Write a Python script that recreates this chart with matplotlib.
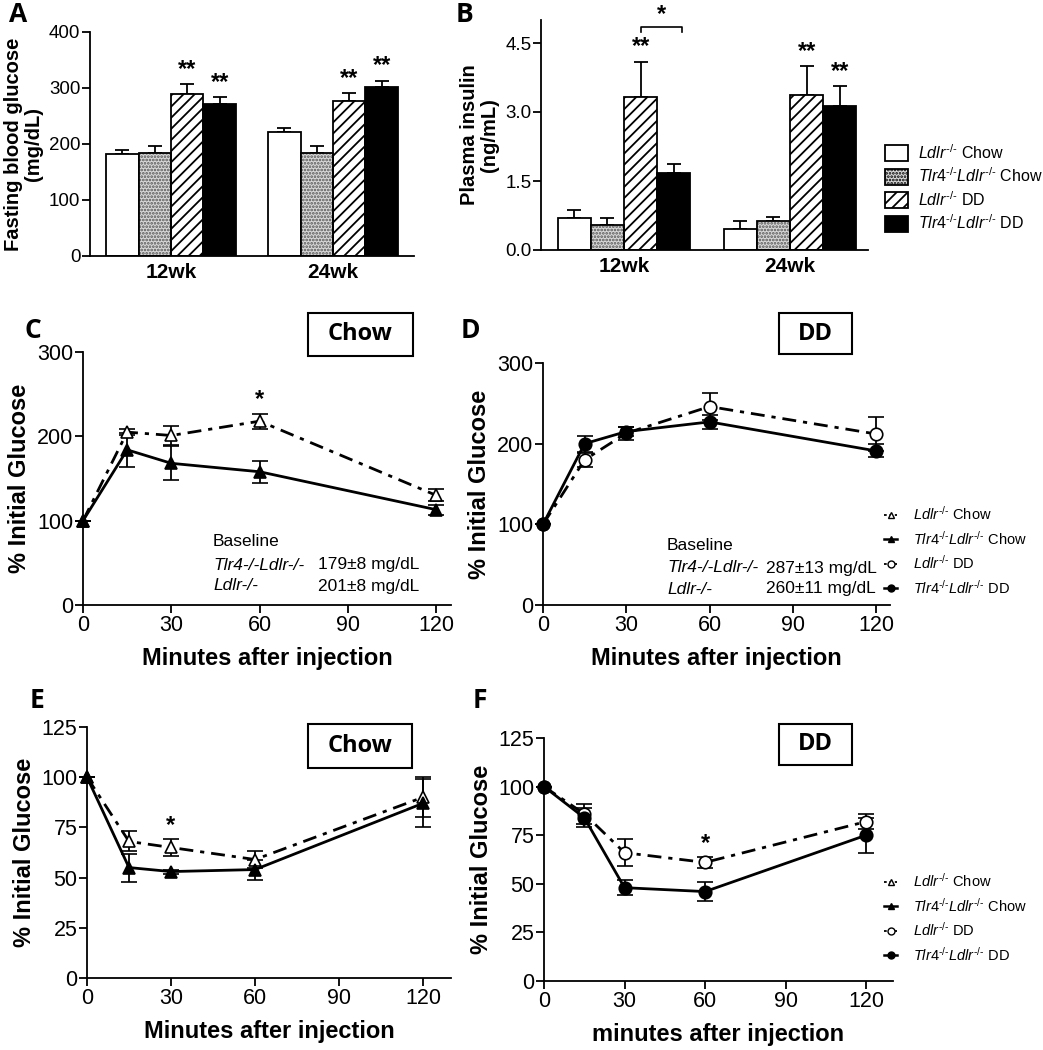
import numpy as np
import matplotlib
matplotlib.use("Agg")
import matplotlib.pyplot as plt
from matplotlib.patches import Rectangle, Patch
from matplotlib.lines import Line2D

plt.rcParams['font.family'] = ['Liberation Sans', 'DejaVu Sans']
plt.rcParams['mathtext.fontset'] = 'custom'
plt.rcParams['mathtext.rm'] = 'Liberation Sans'
plt.rcParams['mathtext.it'] = 'Liberation Sans:italic'
plt.rcParams['hatch.linewidth'] = 1.3

W, H = 1043, 1050

# ---- data ----
groups = ["12wk", "24wk"]
glucose = [[182, 184, 290, 272], [221, 184, 277, 301]]
glucose_err = [[7, 12, 17, 12], [8, 12, 14, 12]]
insulin = [[0.69, 0.54, 3.32, 1.67], [0.46, 0.63, 3.38, 3.14]]
insulin_err = [[0.18, 0.15, 0.77, 0.20], [0.16, 0.09, 0.61, 0.42]]
glucose_stars = [["", "", "**", "**"], ["", "", "**", "**"]]
insulin_stars = [["", "", "**", ""], ["", "", "**", "**"]]

t = [0, 15, 30, 60, 120]
gtt_ldlr_chow = [100, 205, 201, 218, 130]
gtt_ldlr_chow_err = [0, 4, 11, 9, 7]
gtt_tlr4_chow = [100, 184, 168, 158, 113]
gtt_tlr4_chow_err = [0, 20, 20, 13, 6]
gtt_ldlr_dd = [100, 180, 213, 246, 212]
gtt_ldlr_dd_err = [0, 9, 8, 17, 21]
gtt_tlr4_dd = [100, 200, 215, 227, 191]
gtt_tlr4_dd_err = [0, 10, 6, 9, 8]

itt_ldlr_chow = [100, 68, 65, 59, 90]
itt_ldlr_chow_err = [0, 5, 4, 4, 10]
itt_tlr4_chow = [100, 55, 53, 54, 87]
itt_tlr4_chow_err = [0, 7, 1, 5, 12]
itt_ldlr_dd = [100, 86, 66, 61, 82]
itt_ldlr_dd_err = [0, 5, 7, 3, 4]
itt_tlr4_dd = [100, 84, 48, 46, 75]
itt_tlr4_dd_err = [0, 5, 4, 5, 9]

ko = r"^{\mathit{‐/‐}}"
bar_labels = [r"$\mathit{Ldlr}" + ko + "$ Chow", r"$\mathit{Tlr4}" + ko + r"\mathit{Ldlr}" + ko + "$ Chow",
              r"$\mathit{Ldlr}" + ko + "$ DD", r"$\mathit{Tlr4}" + ko + r"\mathit{Ldlr}" + ko + "$ DD"]

fig = plt.figure(figsize=(W / 100, H / 100), dpi=100)


def add_ax(x0, y0, x1, y1):
    ax = fig.add_axes([x0 / W, 1 - y1 / H, (x1 - x0) / W, (y1 - y0) / H])
    ax.spines['top'].set_visible(False)
    ax.spines['right'].set_visible(False)
    for s in ['left', 'bottom']:
        ax.spines[s].set_linewidth(1.3)
    ax.tick_params(direction='out', length=6, width=1.3, labelsize=13.5, pad=1)
    return ax


bar_face = ['white', '#d8d8d8', 'white', 'black']
bar_hatch = [None, '.....', '///', None]
bar_hcol = ['black', '#555555', 'black', 'black']


def bar_panel(ax, vals, errs, stars, ymax, yticks, ylabel, fmt, xmax):
    starts = [0.5, 5.5]
    for g in range(2):
        for i in range(4):
            xc = starts[g] + i + 0.5
            if bar_hatch[i]:
                ax.bar(xc, vals[g][i], width=1, color=bar_face[i], hatch=bar_hatch[i],
                       edgecolor=bar_hcol[i], linewidth=0, zorder=2)
                ax.bar(xc, vals[g][i], width=1, color='none', edgecolor='black', linewidth=1.3, zorder=3)
            else:
                ax.bar(xc, vals[g][i], width=1, color=bar_face[i], edgecolor='black', linewidth=1.3, zorder=2)
            ax.errorbar(xc, vals[g][i], yerr=[[0], [errs[g][i]]], color='black', capsize=5,
                        elinewidth=1.3, capthick=1.3, zorder=1)
            if stars[g][i]:
                ax.text(xc, vals[g][i] + errs[g][i] + ymax * 0.015, stars[g][i], ha='center',
                        va='bottom', fontsize=17, fontweight='bold')
    ax.set_xlim(0, xmax)
    ax.set_ylim(0, ymax)
    ax.set_yticks(yticks)
    ax.set_yticklabels([fmt.format(v) for v in yticks])
    ax.set_xticks([2.5, 7.5])
    ax.set_xticklabels(groups, fontsize=15, fontweight='bold')
    ax.tick_params(axis='x', length=0, pad=5)
    ax.set_ylabel(ylabel, fontsize=14.5, fontweight='bold', labelpad=4, linespacing=1.1)


# A
axA = add_ax(90, 32, 414, 256)
bar_panel(axA, glucose, glucose_err, glucose_stars, 400, [0, 100, 200, 300, 400],
          "Fasting blood glucose\n(mg/dL)", "{:d}", 10.0)

# B
axB = add_ax(541, 20, 868, 250)
bar_panel(axB, insulin, insulin_err, insulin_stars, 5.0, [0.0, 1.5, 3.0, 4.5],
          "Plasma insulin\n(ng/mL)", "{:.1f}", 9.85)
bx0, bx1, by = 3.0, 4.25, 4.85
axB.plot([bx0, bx0, bx1, bx1], [by - 0.12, by, by, by - 0.12], color='black', lw=1.2, clip_on=False)
axB.text((bx0 + bx1) / 2, by + 0.02, "*", ha='center', va='bottom', fontsize=17, fontweight='bold')

handles = []
for i in range(4):
    if bar_hatch[i]:
        handles.append(Patch(facecolor=bar_face[i], edgecolor='black', hatch=bar_hatch[i], linewidth=1.3))
    else:
        handles.append(Patch(facecolor=bar_face[i], edgecolor='black', linewidth=1.3))
fig.legend(handles, bar_labels, loc='upper left', bbox_to_anchor=(885 / W, 1 - 143 / H), frameon=False,
           fontsize=11.5, handlelength=1.45, handleheight=1.2, handletextpad=0.6, labelspacing=0.3,
           borderaxespad=0, borderpad=0)


def line_panel(ax, xmax, ymax, yticks, series, xlabel):
    for y, e, mk, mfc, ls in series:
        ax.errorbar(t, y, yerr=e, color='black', marker=mk, markersize=9, markerfacecolor=mfc,
                    markeredgecolor='black', markeredgewidth=1.2, linestyle=ls, linewidth=2,
                    capsize=6, elinewidth=1.3, capthick=1.3, clip_on=False, zorder=3)
    ax.set_xlim(0, xmax)
    ax.set_ylim(0, ymax)
    ax.set_xticks([0, 30, 60, 90, 120])
    ax.set_yticks(yticks)
    ax.tick_params(labelsize=15.5)
    ax.set_xlabel(xlabel, fontsize=17, fontweight='bold', labelpad=8)
    ax.set_ylabel("% Initial Glucose", fontsize=17, fontweight='bold', labelpad=4)


dashdot = (0, (5, 2.5, 1.5, 2.5))
ser_chow = [(gtt_ldlr_chow, gtt_ldlr_chow_err, '^', 'white', dashdot),
            (gtt_tlr4_chow, gtt_tlr4_chow_err, '^', 'black', '-')]
ser_dd = [(gtt_ldlr_dd, gtt_ldlr_dd_err, 'o', 'white', dashdot),
          (gtt_tlr4_dd, gtt_tlr4_dd_err, 'o', 'black', '-')]
iser_chow = [(itt_ldlr_chow, itt_ldlr_chow_err, '^', 'white', dashdot),
             (itt_tlr4_chow, itt_tlr4_chow_err, '^', 'black', '-')]
iser_dd = [(itt_ldlr_dd, itt_ldlr_dd_err, 'o', 'white', dashdot),
           (itt_tlr4_dd, itt_tlr4_dd_err, 'o', 'black', '-')]

# C
axC = add_ax(83, 352, 451, 605)
line_panel(axC, 125, 300, [0, 100, 200, 300], ser_chow, "Minutes after injection")
axC.text(60, 230, "*", ha='center', va='bottom', fontsize=17, fontweight='bold')

# D
axD = add_ax(543, 363, 890, 605)
line_panel(axD, 125, 300, [0, 100, 200, 300], ser_dd, "Minutes after injection")

# E
axE = add_ax(87, 727, 451, 978)
line_panel(axE, 130, 125, [0, 25, 50, 75, 100, 125], iser_chow, "Minutes after injection")
axE.text(30, 70, "*", ha='center', va='bottom', fontsize=17, fontweight='bold')

# F
axF = add_ax(544, 738, 893, 981)
line_panel(axF, 130, 125, [0, 25, 50, 75, 100, 125], iser_dd, "minutes after injection")
axF.text(60, 65, "*", ha='center', va='bottom', fontsize=17, fontweight='bold')

# baseline texts
for x0, xv, y0, vals in [(213, 318, 542, ["179±8 mg/dL", "201±8 mg/dL"]),
                         (667, 766, 545, ["287±13 mg/dL", "260±11 mg/dL"])]:
    fig.text(x0 / W, 1 - y0 / H, "Baseline", fontsize=12.5, va='center')
    fig.text(x0 / W, 1 - (y0 + 23) / H, "Tlr4-/-Ldlr-/-", fontsize=12.5, style='italic', va='center')
    fig.text(x0 / W, 1 - (y0 + 44) / H, "Ldlr-/-", fontsize=12.5, style='italic', va='center')
    fig.text(xv / W, 1 - (y0 + 23) / H, vals[0], fontsize=12.5, va='center')
    fig.text(xv / W, 1 - (y0 + 44) / H, vals[1], fontsize=12.5, va='center')

# line legends
lh = [Line2D([], [], color='black', ls=(0, (1.5, 1.5)), lw=1.3, marker='^', mfc='white', mec='black', ms=5),
      Line2D([], [], color='black', ls='-', lw=1.8, marker='^', mfc='black', mec='black', ms=5),
      Line2D([], [], color='black', ls=(0, (1.5, 1.5)), lw=1.3, marker='o', mfc='white', mec='black', ms=5),
      Line2D([], [], color='black', ls='-', lw=1.8, marker='o', mfc='black', mec='black', ms=5)]
for ytop in [505, 872]:
    fig.legend(lh, bar_labels, loc='upper left', bbox_to_anchor=(884 / W, 1 - ytop / H), frameon=False,
               fontsize=10.5, handlelength=0.9, handletextpad=1.1, labelspacing=0.45,
               borderaxespad=0, borderpad=0)

# diet boxes
for (x0, y0, x1, y1, lab) in [(308, 313, 413, 356, "Chow"), (779, 313, 852, 354, "DD"),
                              (308, 724, 412, 768, "Chow"), (779, 724, 852, 765, "DD")]:
    fig.patches.append(Rectangle((x0 / W, 1 - y1 / H), (x1 - x0) / W, (y1 - y0) / H,
                                 transform=fig.transFigure, fill=False, edgecolor='black', lw=1.5))
    fig.text((x0 + x1) / 2 / W, 1 - (y0 + y1) / 2 / H, lab, ha='center', va='center',
             fontsize=17, fontweight='bold', family='Open Sans')

# panel letters
for x, y, lab in [(18, 14, "A"), (465, 14, "B"), (33, 330, "C"), (470, 330, "D"),
                  (37, 700, "E"), (480, 700, "F")]:
    fig.text(x / W, 1 - y / H, lab, ha='center', va='center', fontsize=19, fontweight='bold',
             family='Open Sans')

fig.savefig("out.png", dpi=100)
